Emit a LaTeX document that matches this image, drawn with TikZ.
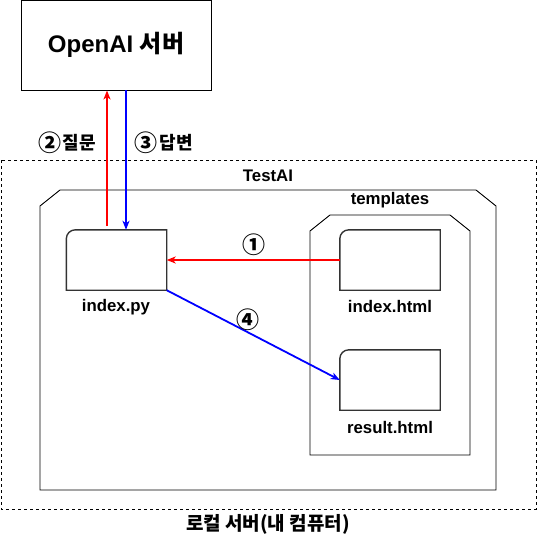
\documentclass[tikz,border=0pt]{standalone}
\usepackage{fontspec}
\setmainfont{Liberation Sans}
\newfontfamily\kr{Noto Sans CJK KR}
\usetikzlibrary{arrows.meta}
\begin{document}
\begin{tikzpicture}[x=1pt,y=-1pt,
    lbl/.style={font=\bfseries\fontsize{16.8}{20}\selectfont},
    krlbl/.style={font=\kr\bfseries\fontsize{18}{22}\selectfont},
    num/.style={font=\kr\bfseries\fontsize{23}{23}\selectfont,inner sep=0pt},
    file/.style={minimum width=100pt,minimum height=60pt,inner sep=0pt},
    fileline/.style={draw=black!80,line width=1.4pt},
    arr/.style={line width=1.8pt,-{Stealth[length=9pt,width=7pt,inset=2.5pt]}}]
    \useasboundingbox (0,0) rectangle (537,542);
    \draw[dashed,line width=0.8pt] (1,160) rectangle (536,509);
    \draw[line width=0.9pt] (40,490) -- (40,206) -- (60,190) -- (476,190) -- (496,206) -- (496,490) -- cycle;
    \draw[line width=0.9pt] (310,455) -- (310,231) -- (330,215) -- (450,215) -- (470,231) -- (470,455) -- cycle;
    \node[draw,line width=0.9pt,minimum width=190pt,minimum height=90pt] (openai) at (116,45)
        {\bfseries\fontsize{24}{28}\selectfont OpenAI {\kr 서버}};
    \node[file] (ipy) at (116.5,260) {};
    \node[file] (ihtml) at (390,260) {};
    \node[file] (rhtml) at (390,380) {};
    \foreach \f in {ipy,ihtml,rhtml}
        \draw[fileline] (\f.south west) [rounded corners=9pt] -- (\f.north west) [sharp corners] -- (\f.north east) -- (\f.south east) -- cycle;
    \node[lbl] (ipyl) at (116,307) {index.py};
    \node[lbl] (ihtmll) at (390,306) {index.html};
    \node[lbl] (rhtmll) at (390,427) {result.html};
    \node[lbl] (testai) at (268,176) {TestAI};
    \node[lbl] (tmpl) at (390,200) {templates};
    \node[krlbl,font=\kr\bfseries\fontsize{19}{22}\selectfont] (local) at (268,524) {로컬 서버(내 컴퓨터)};
    \coordinate (redstart) at (107,226);
    \coordinate (bluestart) at (126,90);
    \draw[arr,red] (redstart) -- (redstart |- openai.south);
    \draw[arr,blue] (bluestart) -- (bluestart |- ipy.north);
    \draw[arr,red] (ihtml.west) -- (ipy.east);
    \draw[arr,blue] (ipy.south east) -- (rhtml.west);
    \node[num] (n2) at (49.5,143) {②};
    \node[krlbl,anchor=west] (q) at (59,143) {질문};
    \node[num] (n3) at (146,143) {③};
    \node[krlbl,anchor=west] (a) at (156,143) {답변};
    \node[num] (n1) at (254,245) {①};
    \node[num] (n4) at (248,320) {④};
\end{tikzpicture}
\end{document}
